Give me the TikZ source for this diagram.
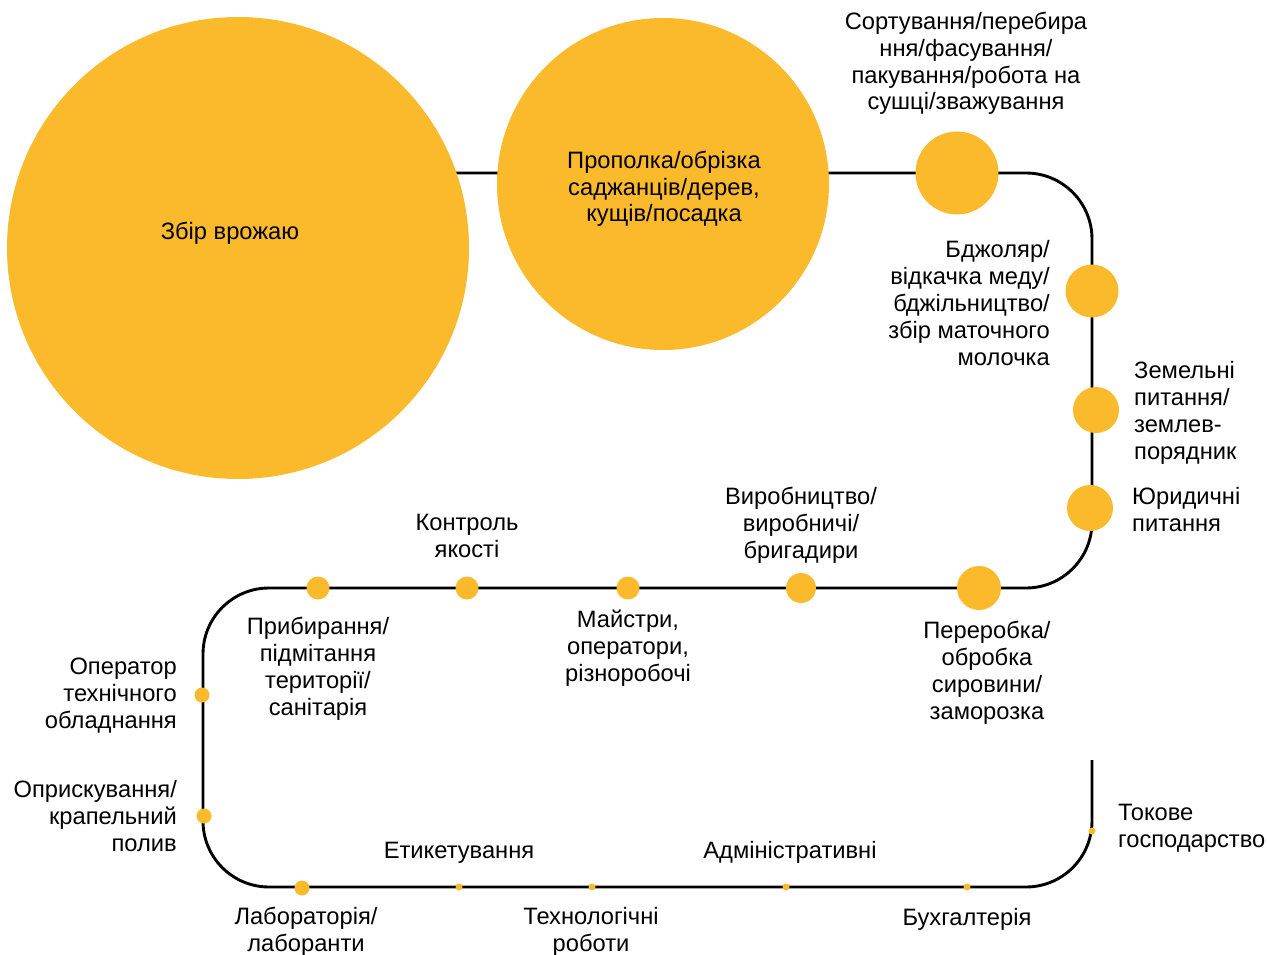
\documentclass[tikz,border=0pt]{standalone}
\usepackage{fontspec}
\setmainfont{Liberation Sans}
\definecolor{dotc}{RGB}{251,186,44}
\begin{document}
\begin{tikzpicture}[x=1pt,y=-1pt,
  track/.style={line width=2.9pt,rounded corners=66pt},
  stop/.style={circle,fill=dotc,inner sep=0pt,minimum size=#1},
  lab/.style={inner sep=0pt,font=\fontsize{23.7}{26.8}\selectfont},
  labc/.style={lab,align=center,anchor=base},
  labl/.style={lab,align=left,anchor=base west},
  labr/.style={lab,align=right,anchor=base east}]
\useasboundingbox (0,0) rectangle (1267,955);
% track coordinates
\coordinate (t0) at (238,173);
\coordinate (t1) at (1092,173);
\coordinate (t2) at (1092,588);
\coordinate (t3) at (203,588);
\coordinate (t4) at (203,887);
\coordinate (t5) at (1092,887);
\coordinate (t6) at (1092,760);
\draw[track] (t0) -- (t1) -- (t2) -- (t3) -- (t4) -- (t5) -- (t6);
% stops
\node[stop=462pt] (big) at (238,248) {};
\node[stop=332pt] (c2) at (663,184) {};
\node[stop=83pt] (c3) at (957,173) {};
\node[stop=53pt] (c4) at (1092,291) {};
\node[stop=46pt] (c5) at (1096,410) {};
\node[stop=46pt] (c6) at (1090,508) {};
\node[stop=44pt] (m1) at (979,588) {};
\node[stop=30pt] (m2) at (801,588) {};
\node[stop=23pt] (m3) at (628,588) {};
\node[stop=23pt] (m4) at (467,588) {};
\node[stop=23pt] (m5) at (318,588) {};
\node[stop=15pt] (l1) at (202,695) {};
\node[stop=15pt] (l2) at (204,816) {};
\node[stop=15pt] (b1) at (302,888) {};
\node[stop=7pt] (b2) at (459,887) {};
\node[stop=7pt] (b3) at (592,887) {};
\node[stop=7pt] (b4) at (786,887) {};
\node[stop=7pt] (b5) at (967,887) {};
\node[stop=7pt] (r1) at (1092,831) {};
% labels (anchor = baseline of the last line)
\node[labc] (tbig) at (230,240) {Збір врожаю};
\node[labc] (tc2) at (664,222) {Прополка/обрізка\\саджанців/дерев,\\кущів/посадка};
\node[labc] (tc3) at (966,110) {Сортування/перебира\\ння/фасування/\\пакування/робота на\\сушці/зважування};
\node[labr] (tc4) at (1050,365) {Бджоляр/\\відкачка меду/\\бджільництво/\\збір маточного\\молочка};
\node[labl] (tc5) at (1134,459) {Земельні\\питання/\\землев-\\порядник};
\node[labl] (tc6) at (1132,531) {Юридичні\\питання};
\node[labc] (tm1) at (987,719) {Переробка/\\обробка\\сировини/\\заморозка};
\node[labc] (tm2) at (801,558) {Виробництво/\\виробничі/\\бригадири};
\node[labc] (tm3) at (628,681) {Майстри,\\оператори,\\різноробочі};
\node[labc] (tm4) at (467,557) {Контроль\\якості};
\node[labc] (tm5) at (318,715) {Прибирання/\\підмітання\\території/\\санітарія};
\node[labr] (tl1) at (177,728) {Оператор\\технічного\\обладнання};
\node[labr] (tl2) at (177,851) {Оприскування/\\крапельний\\полив};
\node[labc] (tb1) at (306,951) {Лабораторія/\\лаборанти};
\node[labc] (tb2) at (459,858) {Етикетування};
\node[labc] (tb3) at (591,951) {Технологічні\\роботи};
\node[labc] (tb4) at (790,858) {Адміністративні};
\node[labc] (tb5) at (967,925) {Бухгалтерія};
\node[labl] (tr1) at (1118,847) {Токове\\господарство};
\end{tikzpicture}
\end{document}
